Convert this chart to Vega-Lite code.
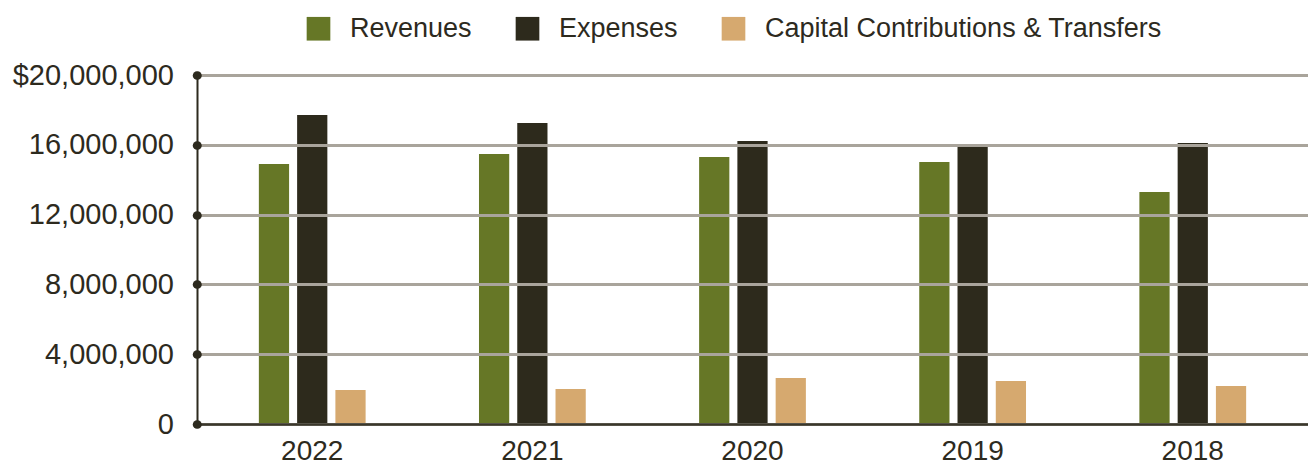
{
  "$schema": "https://vega.github.io/schema/vega-lite/v6.json",
  "width": 1111,
  "height": 349,
  "autosize": {"type": "none"},
  "padding": {"left": 197, "top": 75, "right": 0, "bottom": 41},
  "background": "white",
  "config": {
    "view": {"stroke": null},
    "font": "Liberation Sans"
  },
  "data": {
    "values": [
      {"year": "2022", "series": "Revenues", "value": 14900000},
      {"year": "2022", "series": "Expenses", "value": 17710000},
      {"year": "2022", "series": "Capital Contributions & Transfers", "value": 1950000},
      {"year": "2021", "series": "Revenues", "value": 15470000},
      {"year": "2021", "series": "Expenses", "value": 17250000},
      {"year": "2021", "series": "Capital Contributions & Transfers", "value": 2000000},
      {"year": "2020", "series": "Revenues", "value": 15300000},
      {"year": "2020", "series": "Expenses", "value": 16220000},
      {"year": "2020", "series": "Capital Contributions & Transfers", "value": 2640000},
      {"year": "2019", "series": "Revenues", "value": 15010000},
      {"year": "2019", "series": "Expenses", "value": 16050000},
      {"year": "2019", "series": "Capital Contributions & Transfers", "value": 2460000},
      {"year": "2018", "series": "Revenues", "value": 13300000},
      {"year": "2018", "series": "Expenses", "value": 16100000},
      {"year": "2018", "series": "Capital Contributions & Transfers", "value": 2180000}
    ]
  },
  "mark": {"type": "bar"},
  "encoding": {
    "x": {
      "field": "year",
      "type": "nominal",
      "sort": ["2022", "2021", "2020", "2019", "2018"],
      "scale": {"paddingInner": 0.515, "paddingOuter": 0.281},
      "axis": {
        "title": null,
        "labelAngle": 0,
        "ticks": false,
        "tickSize": 0,
        "labelPadding": 13,
        "labelFontSize": 28,
        "labelColor": "#2d2a1e",
        "domainColor": "#3a372b",
        "domainWidth": 2.5,
        "grid": false,
        "zindex": 1
      }
    },
    "xOffset": {
      "field": "series",
      "type": "nominal",
      "sort": ["Revenues", "Expenses", "Capital Contributions & Transfers"],
      "scale": {"paddingInner": 0.21, "paddingOuter": 0}
    },
    "y": {
      "field": "value",
      "type": "quantitative",
      "scale": {"domain": [0, 20000000], "nice": false},
      "axis": {
        "title": null,
        "values": [0, 4000000, 8000000, 12000000, 16000000, 20000000],
        "labelExpr": "datum.value == 20000000 ? '$20,000,000' : format(datum.value, ',')",
        "labelFontSize": 29,
        "labelColor": "#2d2a1e",
        "labelPadding": 23,
        "domainColor": "#2d2a1e",
        "domainWidth": 2,
        "tickColor": "#2d2a1e",
        "tickWidth": 8.5,
        "tickSize": 0.5,
        "tickCap": "round",
        "grid": true,
        "gridColor": "#a9a49b",
        "gridWidth": 3,
        "zindex": 1
      }
    },
    "color": {
      "field": "series",
      "type": "nominal",
      "sort": ["Revenues", "Expenses", "Capital Contributions & Transfers"],
      "scale": {
        "domain": ["Revenues", "Expenses", "Capital Contributions & Transfers"],
        "range": ["#667726", "#2d2a1c", "#d6a96f"]
      },
      "legend": {
        "title": null,
        "orient": "none",
        "direction": "horizontal",
        "legendX": 108,
        "legendY": -60,
        "padding": 0,
        "symbolType": "square",
        "symbolSize": 560,
        "symbolStrokeWidth": 0,
        "symbolOpacity": 1,
        "labelFontSize": 27,
        "labelColor": "#2d2a1e",
        "labelOffset": 18,
        "labelLimit": 0,
        "columnPadding": 42
      }
    }
  }
}
